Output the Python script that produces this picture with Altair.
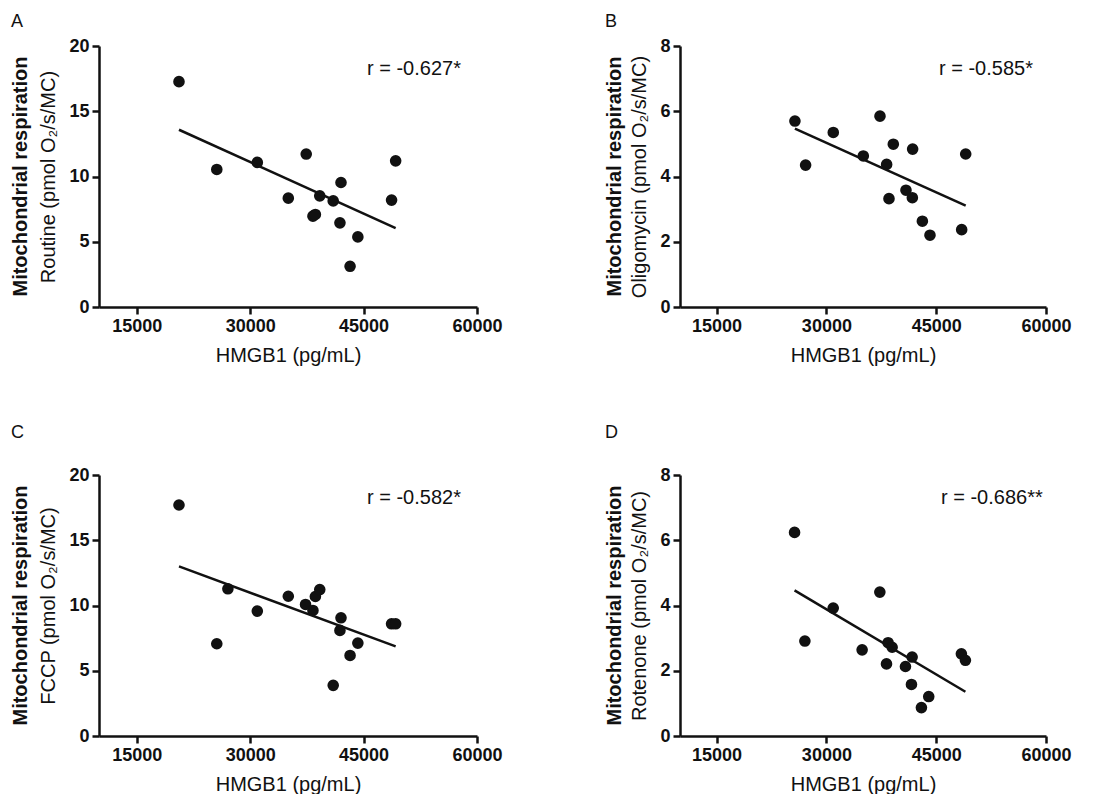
import altair as alt
import pandas as pd

FONT = "Liberation Sans"
INK = "#111111"

# Panel A: Routine
hmgb1_a = [20580, 25580, 30940, 35040, 37410, 38300, 38620, 39200, 40980, 41870, 42010, 43210, 44240, 48700, 49240]
routine = [17.27, 10.54, 11.08, 8.34, 11.72, 6.96, 7.09, 8.52, 8.13, 6.45, 9.54, 3.12, 5.37, 8.19, 11.20]

# Panel B: Oligomycin
hmgb1_b = [25700, 27160, 30940, 35040, 37320, 38230, 38550, 39140, 40870, 41740, 41780, 43110, 44150, 48480, 49030]
oligomycin = [5.70, 4.35, 5.35, 4.63, 5.85, 4.37, 3.32, 4.99, 3.58, 3.35, 4.84, 2.63, 2.20, 2.37, 4.69]

# Panel C: FCCP
hmgb1_c = [20580, 25580, 27050, 30940, 35040, 37320, 38300, 38620, 39200, 40980, 41870, 42010, 43210, 44240, 48700, 49240]
fccp = [17.70, 7.07, 11.28, 9.57, 10.71, 10.08, 9.62, 10.69, 11.22, 3.88, 8.09, 9.06, 6.17, 7.12, 8.60, 8.60]

# Panel D: Rotenone
hmgb1_d = [25650, 27060, 30930, 34880, 37300, 38210, 38430, 38980, 40800, 41620, 41710, 42980, 43980, 48440, 48990]
rotenone = [6.24, 2.91, 3.92, 2.64, 4.41, 2.21, 2.86, 2.72, 2.13, 1.58, 2.42, 0.87, 1.21, 2.52, 2.32]

x_ticks = [15000, 30000, 45000, 60000]
x_domain = [10000, 60000]
r_labels = ["r = -0.627*", "r = -0.585*", "r = -0.582*", "r = -0.686**"]

H = 261


def panel(letter, xs, ys, ymax, ystep, ylabel, rtext, bold_x, title_offset, width, r_x):
    df = pd.DataFrame({"HMGB1": xs, "value": ys})
    base = alt.Chart(df)
    x = alt.X("HMGB1:Q", scale=alt.Scale(domain=x_domain, nice=False, zero=False),
              axis=alt.Axis(values=x_ticks, format="d", title="HMGB1 (pg/mL)",
                            labelFlush=False))
    y = alt.Y("value:Q", scale=alt.Scale(domain=[0, ymax], nice=False),
              axis=alt.Axis(values=list(range(0, ymax + 1, ystep)), title=ylabel,
                            labelFlush=False))
    pts = base.mark_circle(size=135, color=INK, opacity=1).encode(x=x, y=y)
    line = base.transform_regression("HMGB1", "value").mark_line(
        color=INK, strokeWidth=2.5).encode(x="HMGB1:Q", y="value:Q")
    rt = alt.Chart(pd.DataFrame({"t": [rtext]})).mark_text(
        font=FONT, fontSize=20, color=INK, align="left", baseline="middle"
    ).encode(x=alt.value(r_x), y=alt.value(23), text="t:N")
    bold = alt.Chart(pd.DataFrame({"t": ["Mitochondrial respiration"]})).mark_text(
        font=FONT, fontSize=20, fontWeight="bold", color=INK, angle=270,
        align="center", baseline="middle"
    ).encode(x=alt.value(bold_x), y=alt.value(H / 2), text="t:N")
    return alt.layer(pts, line, rt, bold).properties(
        width=width, height=H,
        title=alt.TitleParams(letter, anchor="start", font=FONT, fontSize=18,
                              fontWeight="normal", color=INK, offset=title_offset),
    )


pA = panel("A", hmgb1_a, routine, 20, 5, "Routine (pmol O₂/s/MC)", r_labels[0], -78, 6, 378, 268)
pB = panel("B", hmgb1_b, oligomycin, 8, 2, "Oligomycin (pmol O₂/s/MC)", r_labels[1], -65, 6, 366, 259)
pC = panel("C", hmgb1_c, fccp, 20, 5, "FCCP (pmol O₂/s/MC)", r_labels[2], -78, 24, 378, 268)
pD = panel("D", hmgb1_d, rotenone, 8, 2, "Rotenone (pmol O₂/s/MC)", r_labels[3], -65, 24, 366, 261)

chart = alt.vconcat(
    alt.hconcat(pA, pB, spacing=101),
    alt.hconcat(pC, pD, spacing=101),
    spacing=59,
).properties(
    padding={"left": 2, "top": 5, "right": 2, "bottom": 0},
    background="white",
).configure_view(stroke=None).configure_axis(
    grid=False,
    domainColor=INK, domainWidth=2.5,
    tickColor=INK, tickWidth=2.5, tickSize=7,
    labelFont=FONT, labelFontSize=18, labelFontWeight="bold", labelColor=INK,
    labelPadding=3,
    titleFont=FONT, titleFontSize=20, titleFontWeight="normal", titleColor=INK,
    titlePadding=10,
)

chart.save("out.html", embed_options={"renderer": "svg", "actions": False})
